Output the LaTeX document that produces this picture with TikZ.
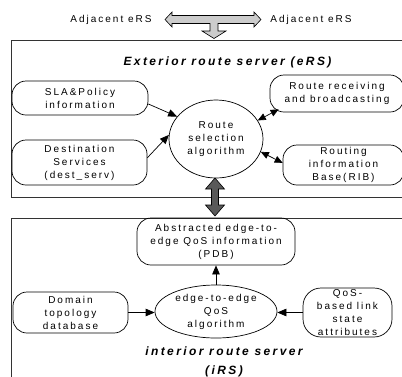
\documentclass[tikz,border=0pt]{standalone}
\usepackage{fontspec}
\setmainfont{Liberation Sans}
\newfontfamily\labfont[LetterSpace=20]{Liberation Sans}
\usetikzlibrary{shapes.geometric,arrows.meta,calc}
\begin{document}
\begin{tikzpicture}[x=1pt,y=-1pt,
 lab/.style={font=\labfont\fontsize{10}{13}\selectfont, align=center},
 ttl/.style={font=\labfont\fontsize{12}{19}\selectfont\bfseries\itshape, align=center},
 rbox/.style={lab, draw, rounded corners=14pt, inner sep=0pt, line width=0.7pt},
 ell/.style={lab, draw, ellipse, inner sep=0pt, line width=0.7pt},
 arr/.style={line width=0.7pt, -{Triangle[length=9pt,width=7.5pt]}},
 darr/.style={line width=0.7pt, {Triangle[length=8pt,width=7pt]}-{Triangle[length=8pt,width=7pt]}},
 frame/.style={draw, line width=0.9pt, black!80},
 bigarr/.style={draw=black, line width=0.6pt, line join=miter}
]
\useasboundingbox (0,0) rectangle (402,376);
\clip (0,0) rectangle (402,376);

% frames
\draw[frame] (11,40) rectangle (420,197);
\draw[frame] (11,218) rectangle (420,400);

% top block arrow
\draw[bigarr, fill=black!20] (165,19.5) -- (172,12) -- (172,15.5) -- (254,15.5) -- (254,12) -- (261,19.5) -- (254,27) -- (254,23.5)
  -- (218,23.5) -- (218,31) -- (226,31) -- (214,38.5) -- (202,31) -- (210,31) -- (210,23.5) -- (172,23.5) -- (172,27) -- cycle;
\node[lab] (adjl) at (111,20) {Adjacent eRS};
\node[lab] (adjr) at (311,20) {Adjacent eRS};

% eRS
\node[ttl] (ert) at (227.5,62) {Exterior route server (eRS)};
\node[rbox, minimum width=136pt, minimum height=34pt] (sla) at (80,98) {SLA\&Policy\\information};
\node[rbox, minimum width=135pt, minimum height=45pt] (dst) at (79.5,162.5) {Destination\\Services\\(dest\_serv)};
\node[ell, minimum width=94pt, minimum height=78pt] (rsa) at (216,139) {Route\\selection\\algorithm};
\node[rbox, minimum width=134pt, minimum height=37pt] (rrb) at (337,93.5) {Route receiving\\and broadcasting};
\node[rbox, minimum width=121pt, minimum height=40pt] (rib) at (343.5,165) {Routing\\information\\Base(RIB)};

\draw[arr] (sla.-5) -- (rsa.150);
\draw[arr] (dst.4) -- (rsa.175);
\draw[darr] (rsa.24) -- ([shift={(9pt,3pt)}]rrb.south west);
\draw[darr] (rsa.-16) -- (rib.178);

% thick vertical arrow
\draw[bigarr, fill=black!65] (215,178) -- (224.5,189) -- (218.5,189) -- (218.5,205) -- (224.5,205) -- (215,216)
  -- (205.5,205) -- (211.5,205) -- (211.5,189) -- (205.5,189) -- cycle;

% iRS
\node[rbox, minimum width=158pt, minimum height=47pt] (pdb) at (216,241.5) {Abstracted edge-to-\\edge QoS information\\(PDB)};
\node[ell, minimum width=122pt, minimum height=53pt] (qos) at (216,311.5) {edge-to-edge\\QoS\\algorithm};
\node[rbox, minimum width=115pt, minimum height=41pt] (dom) at (70.5,312.5) {Domain\\topology\\database};
\node[rbox, rounded corners=18pt, minimum width=89pt, minimum height=49pt, inner ysep=-2pt] (qlsa) at (347.5,312.5) {QoS-\\based link\\state\\attributes};
\node[ttl] (irt) at (224,362) {interior route server\\(iRS)};

\draw[arr] (qos.north) -- (pdb.south);
\draw[arr] (dom.east) -- (dom.east -| qos.west);
\draw[arr] (qlsa.west) -- (qlsa.west -| qos.east);
\end{tikzpicture}
\end{document}
